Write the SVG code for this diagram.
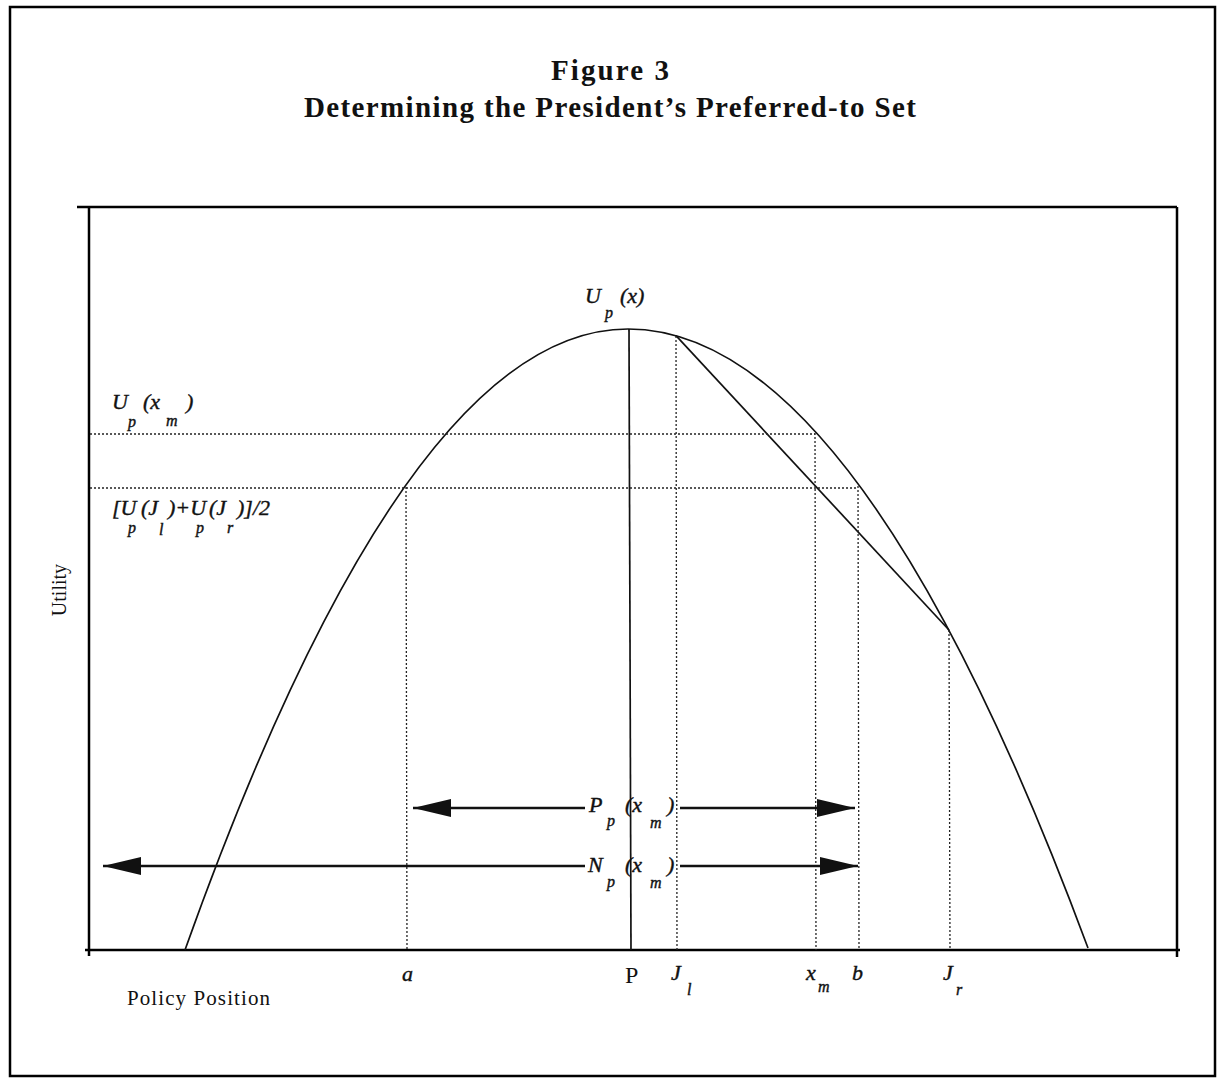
<svg xmlns="http://www.w3.org/2000/svg" width="1221" height="1078" viewBox="0 0 1221 1078">
<defs>
<style>
.frame{fill:none;stroke:#000;stroke-width:2.5}
.ln{fill:none;stroke:#111;stroke-width:1.7}
.dot{fill:none;stroke:#222;stroke-width:1.3;stroke-dasharray:2 2}
.arr{fill:none;stroke:#111;stroke-width:2.6}
.title{font-family:"Liberation Serif",serif;font-weight:bold;font-size:29px;fill:#111;text-anchor:middle}
.math{font-family:"Liberation Serif",serif;font-style:italic;font-size:22px;fill:#111;stroke:#111;stroke-width:0.4}
.sub{font-size:16px}
.rm{font-family:"Liberation Serif",serif;font-size:20px;fill:#111}
</style>
<marker id="head" markerUnits="userSpaceOnUse" markerWidth="40" markerHeight="20" refX="38" refY="9" orient="auto">
<path d="M0,0 L38,9 L0,18 Z" fill="#111"/>
</marker>
</defs>
<rect width="1221" height="1078" fill="#fff"/>
<g id="outer-frame">
<rect class="frame" x="10" y="7" width="1205" height="1069"/>
</g>
<g id="title">
<text class="title" x="610" y="80" textLength="118">Figure 3</text>
<text class="title" x="610" y="117" textLength="612">Determining the President’s Preferred-to Set</text>
</g>
<g id="plot-frame">
<line class="frame" x1="77" y1="207" x2="1177" y2="207" stroke-width="2"/>
<line class="frame" x1="89" y1="207" x2="89" y2="956" stroke-width="2"/>
<line class="frame" x1="1177" y1="207" x2="1177" y2="957" stroke-width="2"/>
<line class="frame" x1="85" y1="950" x2="1180" y2="950" stroke-width="3"/>
</g>
<g id="axis-labels">
<text class="rm" transform="rotate(-90 66 590)" x="66" y="590" text-anchor="middle">Utility</text>
<text class="rm" x="127" y="1005" style="font-size:21px" textLength="143">Policy Position</text>
</g>
<g id="utility-curve">
<path class="ln" d="M185,950 Q406.5,329 628,329 Q858,329 1088,948"/>
<text class="math"><tspan x="585" y="303">U</tspan><tspan class="sub" x="605" y="318">p</tspan><tspan x="620" y="303">(x)</tspan></text>
</g>
<g id="peak-P">
<line class="ln" x1="629" y1="329" x2="631" y2="950"/>
<text class="rm" x="625" y="983" style="font-size:24px">P</text>
</g>
<g id="chord">
<line class="ln" x1="676" y1="335.7" x2="949" y2="630"/>
</g>
<g id="guides">
<line class="dot" x1="90" y1="434" x2="815" y2="434"/>
<line class="dot" x1="90" y1="488" x2="858" y2="488"/>
<line class="dot" x1="406" y1="487" x2="407" y2="950"/>
<line class="dot" x1="676" y1="336" x2="677" y2="950"/>
<line class="dot" x1="815" y1="433" x2="816" y2="950"/>
<line class="dot" x1="858" y1="486" x2="859" y2="950"/>
<line class="dot" x1="949" y1="630" x2="950" y2="950"/>
</g>
<g id="label-Up-xm">
<text class="math"><tspan x="112" y="409">U</tspan><tspan class="sub" x="128" y="427">p</tspan><tspan x="143" y="409">(x</tspan><tspan class="sub" x="166" y="426">m</tspan><tspan x="186" y="409">)</tspan></text>
</g>
<g id="label-avg">
<text class="math"><tspan x="112" y="515">[U</tspan><tspan class="sub" x="128" y="533">p</tspan><tspan x="141" y="515">(J</tspan><tspan class="sub" x="159" y="535">l</tspan><tspan x="168" y="515">)+U</tspan><tspan class="sub" x="196" y="533">p</tspan><tspan x="209" y="515">(J</tspan><tspan class="sub" x="227" y="533">r</tspan><tspan x="237" y="515">)]/2</tspan></text>
</g>
<g id="x-ticks">
<text class="math" x="402" y="981">a</text>
<text class="math"><tspan x="671" y="980">J</tspan><tspan class="sub" x="687" y="995">l</tspan></text>
<text class="math"><tspan x="806" y="980">x</tspan><tspan class="sub" x="818" y="992">m</tspan></text>
<text class="math" x="852" y="980">b</text>
<text class="math"><tspan x="943" y="980">J</tspan><tspan class="sub" x="956" y="995">r</tspan></text>
</g>
<g id="connectors">
<path class="arr" d="M585,808 L413,808" marker-end="url(#head)"/>
<path class="arr" d="M680,808 L855,808" marker-end="url(#head)"/>
<path class="arr" d="M585,866 L103,866" marker-end="url(#head)"/>
<path class="arr" d="M680,866 L858,866" marker-end="url(#head)"/>
</g>
<g id="label-Pp">
<text class="math"><tspan x="589" y="812">P</tspan><tspan class="sub" x="607" y="826">p</tspan><tspan x="625" y="812">(x</tspan><tspan class="sub" x="650" y="828">m</tspan><tspan x="667" y="812">)</tspan></text>
</g>
<g id="label-Np">
<text class="math"><tspan x="588" y="872">N</tspan><tspan class="sub" x="607" y="887">p</tspan><tspan x="625" y="872">(x</tspan><tspan class="sub" x="650" y="888">m</tspan><tspan x="667" y="872">)</tspan></text>
</g>
</svg>
